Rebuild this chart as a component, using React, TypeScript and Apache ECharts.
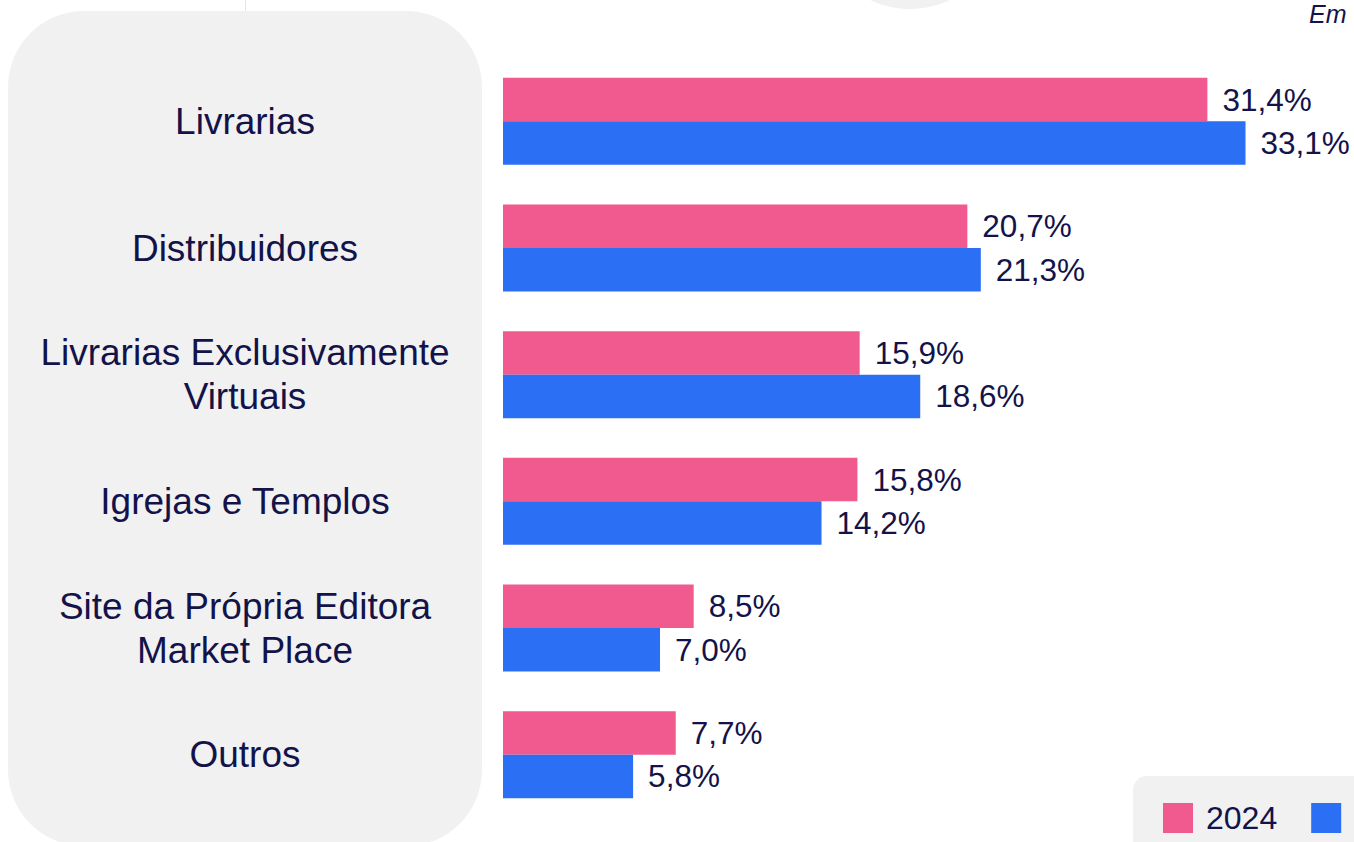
import React, { useEffect, useRef } from "react";
import * as echarts from "echarts";

const categories = [
  "Livrarias",
  "Distribuidores",
  "Livrarias Exclusivamente\nVirtuais",
  "Igrejas e Templos",
  "Site da Própria Editora\nMarket Place",
  "Outros",
];
const seriesNames = ["2024", "2023"];
const values2024 = [31.4, 20.7, 15.9, 15.8, 8.5, 7.7];
const values2023 = [33.1, 21.3, 18.6, 14.2, 7.0, 5.8];
const unitNote = "Em";

const PINK = "#F05A8F";
const BLUE = "#2B6FF5";
const NAVY = "#13134A";
const PANEL = "#F1F1F1";
const FONT = "'Liberation Sans', Arial, sans-serif";

const fmt = (v: number) => v.toFixed(1).replace(".", ",") + "%";

export default function App() {
  const ref = useRef<HTMLDivElement>(null);
  useEffect(() => {
    if (!ref.current) return;
    const chart = echarts.init(ref.current, null, { renderer: "svg" });
    const labelCfg = {
      show: true,
      position: "right",
      distance: 15,
      color: NAVY,
      fontSize: 31.5,
      fontFamily: FONT,
      formatter: (p: any) => fmt(p.value),
    };
    chart.setOption({
      animation: false,
      backgroundColor: "#ffffff",
      textStyle: { fontFamily: FONT },
      graphic: [
        {
          type: "line",
          shape: { x1: 245.5, y1: 0, x2: 245.5, y2: 11 },
          style: { stroke: "#E6E6E6", lineWidth: 1 },
          z: -10,
        },
        {
          type: "circle",
          shape: { cx: 910, cy: -84, r: 93 },
          style: { fill: PANEL },
          z: -10,
        },
        {
          type: "rect",
          shape: { x: 8, y: 11, width: 474, height: 835, r: 76 },
          style: { fill: PANEL },
          z: -10,
        },
        {
          type: "rect",
          shape: { x: 1133, y: 776, width: 300, height: 120, r: 14 },
          style: { fill: PANEL },
          z: -10,
        },
        {
          type: "text",
          x: 1309,
          y: 1,
          style: {
            text: unitNote,
            fill: NAVY,
            font: `italic 25px ${FONT}`,
          },
        },
      ],
      legend: {
        data: seriesNames,
        left: 1163,
        top: 802,
        width: 500,
        padding: 0,
        itemWidth: 30,
        itemHeight: 30,
        itemGap: 34,
        icon: "rect",
        textStyle: {
          color: NAVY,
          fontSize: 32,
          fontFamily: FONT,
          padding: [0, 0, 0, 8],
        },
      },
      grid: { left: 503, top: 58, width: 830, height: 760, containLabel: false },
      xAxis: {
        type: "value",
        min: 0,
        max: 37,
        show: false,
      },
      yAxis: {
        type: "category",
        data: categories,
        inverse: true,
        axisLine: { show: false },
        axisTick: { show: false },
        splitLine: { show: false },
        axisLabel: {
          align: "center",
          margin: 258,
          color: NAVY,
          fontSize: 37,
          lineHeight: 44,
          fontFamily: FONT,
        },
      },
      series: [
        {
          name: seriesNames[0],
          type: "bar",
          data: values2024,
          barWidth: 43.5,
          barGap: "0%",
          itemStyle: { color: PINK },
          label: labelCfg,
        },
        {
          name: seriesNames[1],
          type: "bar",
          data: values2023,
          barWidth: 43.5,
          barGap: "0%",
          itemStyle: { color: BLUE },
          label: labelCfg,
        },
      ],
    });
    return () => chart.dispose();
  }, []);
  return (
    <div
      ref={ref}
      style={{ position: "fixed", left: 0, top: 0, width: 1354, height: 842, overflow: "hidden" }}
    />
  );
}
